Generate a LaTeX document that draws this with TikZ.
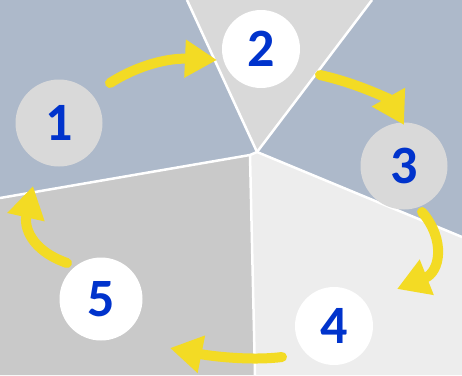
\documentclass[tikz,border=0pt]{standalone}
\usepackage{fontspec}
\setmainfont{Carlito}
\usetikzlibrary{arrows.meta}
\definecolor{bluegray}{HTML}{ADB9CA}
\definecolor{tri}{HTML}{D9D9D9}
\definecolor{blgray}{HTML}{C9C9C9}
\definecolor{brgray}{HTML}{EDEDED}
\definecolor{circgray}{HTML}{D9D9D9}
\definecolor{numblue}{HTML}{0033CC}
\definecolor{arrowyellow}{HTML}{F3DB24}
\begin{document}
\begin{tikzpicture}[x=1pt,y=-1pt,
  num/.style={circle,inner sep=0pt,font=\fontsize{54}{54}\selectfont\bfseries,text=numblue},
  sep/.style={draw=white,line width=2.5pt},
  flow/.style={draw=arrowyellow,line width=10pt,line cap=round,-{Triangle[length=32pt,width=36pt]}}]
\useasboundingbox (0,0) rectangle (462,375);
% regions
\coordinate (C) at (257,152);
\coordinate (D) at (250,155);
\fill[bluegray] (0,0) -- (187,0) -- (C) -- (D) -- (0,198) -- cycle;
\fill[tri] (187,0) -- (372,0) -- (C) -- cycle;
\fill[bluegray] (372,0) -- (462,0) -- (462,237) -- (C) -- cycle;
\fill[brgray] (C) -- (462,237) -- (462,375) -- (255,375) -- (D) -- cycle;
\fill[blgray] (D) -- (255,375) -- (0,375) -- (0,198) -- cycle;
% separators
\draw[sep] (187,0) -- (C);
\draw[sep] (372,0) -- (C);
\draw[sep] (C) -- (462,237);
\draw[sep] (D) -- (255,375);
\draw[sep] (D) -- (0,198);
\draw[sep] (D) -- (C);
% circles
\node[num,fill=circgray,minimum size=87pt] (n1) at (59,123) {1};
\node[num,fill=white,minimum size=78pt] (n2) at (261,49) {2};
\node[num,fill=circgray,minimum size=87pt] (n3) at (404,166) {3};
\node[num,fill=white,minimum size=78pt] (n4) at (334,326) {4};
\node[num,fill=white,minimum size=83pt] (n5) at (101,299) {5};
% arrow ends
\coordinate (a1s) at (110,83);
\coordinate (a1e) at (217,60);
\coordinate (a2s) at (320,75);
\coordinate (a2e) at (404,125);
\coordinate (a3s) at (422,212);
\coordinate (a3e) at (397,289);
\coordinate (a4s) at (282,357);
\coordinate (a4e) at (170,348);
\coordinate (a5s) at (67,263);
\coordinate (a5e) at (33,186);
\draw[flow] (a1s) .. controls (140,64) and (170,58) .. (a1e);
\draw[flow] (a2s) .. controls (360,84) and (390,100) .. (a2e);
\draw[flow] (a3s) .. controls (446,240) and (440,272) .. (a3e);
\draw[flow] (a4s) .. controls (250,361) and (210,356) .. (a4e);
\draw[flow] (a5s) .. controls (30,250) and (24,226) .. (a5e);
\end{tikzpicture}
\end{document}
